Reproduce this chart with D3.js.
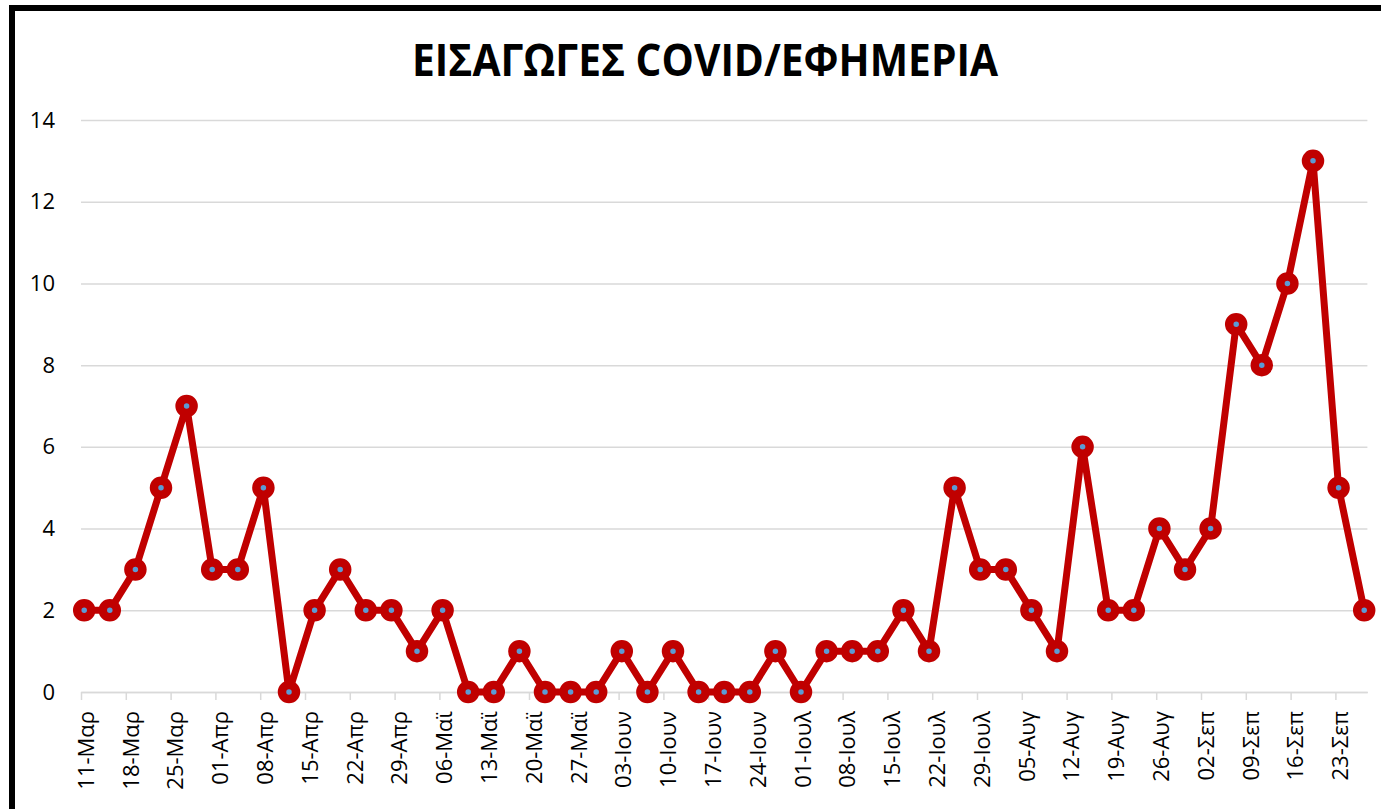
<!DOCTYPE html>
<html>
<head>
<meta charset="utf-8">
<script src="https://cdn.jsdelivr.net/npm/d3@7"></script>
<style>
  body { margin: 0; background: #fff; }
  svg { display: block; font-family: "Open Sans", sans-serif; }
</style>
</head>
<body>
<div id="chart"></div>
<script>
// admissions per on-call day (every 4 days, 2020)
var dates = ["2020-03-11","2020-03-15","2020-03-19","2020-03-23","2020-03-27","2020-03-31",
  "2020-04-04","2020-04-08","2020-04-12","2020-04-16","2020-04-20","2020-04-24","2020-04-28",
  "2020-05-02","2020-05-06","2020-05-10","2020-05-14","2020-05-18","2020-05-22","2020-05-26","2020-05-30",
  "2020-06-03","2020-06-07","2020-06-11","2020-06-15","2020-06-19","2020-06-23","2020-06-27",
  "2020-07-01","2020-07-05","2020-07-09","2020-07-13","2020-07-17","2020-07-21","2020-07-25","2020-07-29",
  "2020-08-02","2020-08-06","2020-08-10","2020-08-14","2020-08-18","2020-08-22","2020-08-26","2020-08-30",
  "2020-09-03","2020-09-07","2020-09-11","2020-09-15","2020-09-19","2020-09-23","2020-09-27"];
var admissions = [2,2,3,5,7,3,3,5,0,2,3,2,2,1,2,0,0,1,0,0,0,1,0,1,0,0,0,1,0,1,1,1,2,1,5,3,3,2,1,6,2,2,4,3,4,9,8,10,13,5,2];

var tickDates = ["2020-03-11","2020-03-18","2020-03-25","2020-04-01","2020-04-08","2020-04-15","2020-04-22","2020-04-29",
  "2020-05-06","2020-05-13","2020-05-20","2020-05-27","2020-06-03","2020-06-10","2020-06-17","2020-06-24",
  "2020-07-01","2020-07-08","2020-07-15","2020-07-22","2020-07-29","2020-08-05","2020-08-12","2020-08-19",
  "2020-08-26","2020-09-02","2020-09-09","2020-09-16","2020-09-23"];
var tickLabels = ["11-Μαρ","18-Μαρ","25-Μαρ","01-Απρ","08-Απρ","15-Απρ","22-Απρ","29-Απρ",
  "06-Μαϊ","13-Μαϊ","20-Μαϊ","27-Μαϊ","03-Ιουν","10-Ιουν","17-Ιουν","24-Ιουν",
  "01-Ιουλ","08-Ιουλ","15-Ιουλ","22-Ιουλ","29-Ιουλ","05-Αυγ","12-Αυγ","19-Αυγ",
  "26-Αυγ","02-Σεπ","09-Σεπ","16-Σεπ","23-Σεπ"];
var yTicks = [0,2,4,6,8,10,12,14];

var width = 1381, height = 809;
var lineColor = "#C00000";
var markerFill = "#5B9BD5";
var gridColor = "#D9D9D9";

var parse = d3.timeParse("%Y-%m-%d");
var data = dates.map((d,i) => ({date: parse(d), val: admissions[i]}));

var x = d3.scaleTime()
  .domain([parse("2020-03-11"), parse("2020-09-28")])
  .range([81, 1367.4]);
var y = d3.scaleLinear()
  .domain([0, 14])
  .range([692, 120]);

// points sit in the middle of their day
function px(d){ return x(d3.timeHour.offset(d, 12)); }

var svg = d3.select("#chart").append("svg")
  .attr("width", width)
  .attr("height", height);

// outer chart border
svg.append("rect")
  .attr("x", 12).attr("y", 8)
  .attr("width", width + 20).attr("height", height + 20)
  .attr("fill", "none")
  .attr("stroke", "#000")
  .attr("stroke-width", 6);

svg.append("text")
  .attr("x", 705)
  .attr("y", 76)
  .attr("text-anchor", "middle")
  .attr("font-size", 44)
  .attr("font-weight", 700)
  .attr("textLength", 586)
  .attr("lengthAdjust", "spacingAndGlyphs")
  .attr("fill", "#000")
  .text("ΕΙΣΑΓΩΓΕΣ COVID/ΕΦΗΜΕΡΙΑ");

// gridlines + y labels
var yAxis = svg.append("g")
  .attr("transform", "translate(81,0)")
  .call(d3.axisLeft(y).tickValues(yTicks).tickSize(-(x.range()[1]-81)).tickFormat(d3.format("d")));
yAxis.select(".domain").remove();
yAxis.selectAll(".tick line")
  .attr("stroke", gridColor)
  .attr("stroke-width", 1.5);
yAxis.selectAll(".tick text")
  .attr("x", -26)
  .attr("font-size", 22)
  .attr("fill", "#000")
  .attr("font-family", "Open Sans");

// x axis
var xAxis = svg.append("g")
  .attr("transform", "translate(0,692)")
  .call(d3.axisBottom(x)
    .tickValues(tickDates.map(parse))
    .tickFormat((d,i) => tickLabels[i])
    .tickSize(8)
    .tickSizeOuter(0));
xAxis.select(".domain")
  .attr("stroke", gridColor)
  .attr("stroke-width", 1.5);
xAxis.selectAll(".tick line")
  .attr("stroke", gridColor)
  .attr("stroke-width", 1.5);
xAxis.selectAll(".tick text")
  .attr("transform", "rotate(-90)")
  .attr("text-anchor", "end")
  .attr("x", -19)
  .attr("y", 4.5)
  .attr("dy", "0.35em")
  .attr("font-size", 22)
  .attr("fill", "#000")
  .attr("font-family", "Open Sans");

var line = d3.line()
  .x(d => px(d.date))
  .y(d => y(d.val));

svg.append("path")
  .datum(data)
  .attr("d", line)
  .attr("fill", "none")
  .attr("stroke", lineColor)
  .attr("stroke-width", 7)
  .attr("stroke-linejoin", "round");

svg.append("g")
  .selectAll("circle")
  .data(data)
  .enter()
  .append("circle")
  .attr("cx", d => px(d.date))
  .attr("cy", d => y(d.val))
  .attr("r", 7)
  .attr("fill", markerFill)
  .attr("stroke", lineColor)
  .attr("stroke-width", 8.5);
</script>
</body>
</html>
